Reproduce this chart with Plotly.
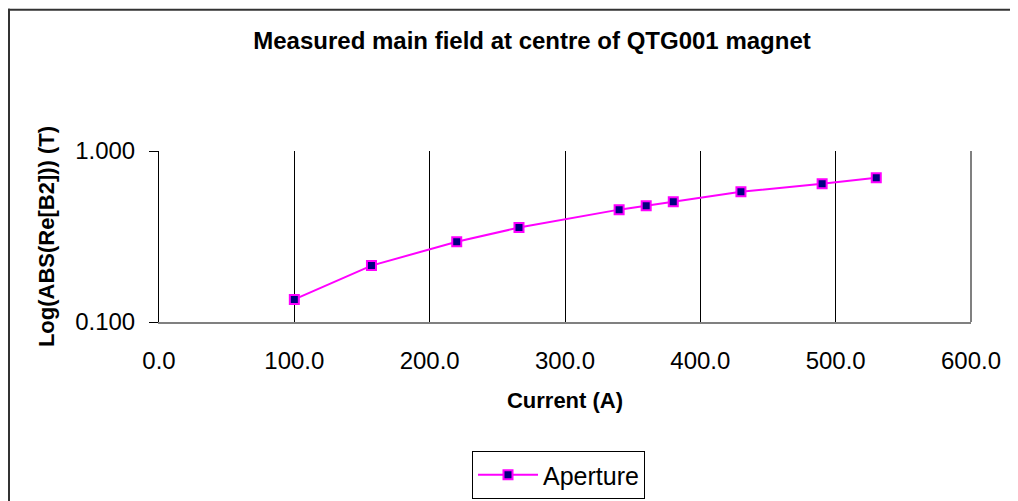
import plotly.graph_objects as go

current_A = [100, 157, 220, 266, 340, 360, 380, 430, 490, 530]
field_T = [0.1355, 0.2137, 0.2945, 0.3566, 0.454, 0.479, 0.505, 0.578, 0.643, 0.697]
series_name = "Aperture"
x_ticks = [0, 100, 200, 300, 400, 500, 600]
y_ticks = [0.1, 1.0]
y_ticktext = ["0.100", "1.000"]

W, H = 1018, 501
OFF = 8  # page body margin shifts the figure by this many px
L, R, T, B = 159 - OFF, 971 - OFF, 151 - OFF, 323 - OFF
pw, ph = R - L, B - T

def px_x(p):
    return (p - OFF - L) / pw

def px_y(p):
    return (B - (p - OFF)) / ph

fig = go.Figure()
fig.add_trace(go.Scatter(
    x=current_A, y=field_T, name=series_name, mode="lines+markers",
    line=dict(color="#FF00FF", width=2),
    marker=dict(symbol="square", size=9, color="#000080",
                line=dict(color="#FF00FF", width=2)),
))

font = "Liberation Sans, Arial, sans-serif"
fig.update_layout(
    width=W, height=H,
    margin=dict(l=L, r=W - R, t=T, b=H - B),
    paper_bgcolor="white", plot_bgcolor="white",
    font=dict(family=font, color="black", size=24),
    title=dict(text="<b>Measured main field at centre of QTG001 magnet</b>",
               xref="container", x=(532 - OFF) / W, xanchor="center",
               yref="container", y=1 - (41 - OFF) / H, yanchor="middle",
               font=dict(size=24, family=font, color="black")),
    showlegend=True,
    legend=dict(x=px_x(472), y=px_y(451), xanchor="left", yanchor="top",
                bordercolor="black", borderwidth=1, bgcolor="white",
                font=dict(size=25, family=font), itemwidth=60),
    xaxis=dict(range=[0, 600], tickvals=x_ticks,
               ticktext=[f"{v:.1f}" for v in x_ticks],
               showgrid=True, gridcolor="black", gridwidth=1,
               showline=True, linecolor="#808080", linewidth=2,
               ticks="", ticklabelstandoff=16, zeroline=False,
               title=dict(text="<b>Current (A)</b>", standoff=20,
                          font=dict(size=22, family=font))),
    yaxis=dict(type="log", range=[-1, 0], tickvals=y_ticks, ticktext=y_ticktext,
               showgrid=True, gridcolor="black", gridwidth=1,
               showline=True, linecolor="black", linewidth=1,
               ticks="outside", ticklen=9, tickcolor="black",
               ticklabelstandoff=9, zeroline=False,
               title=dict(text="<b>Log(ABS(Re[B2])) (T)</b>", standoff=14,
                          font=dict(size=22, family=font))),
    shapes=[
        dict(type="line", xref="x domain", yref="y domain", x0=1, x1=1, y0=0, y1=1,
             line=dict(color="#808080", width=2), layer="above"),
        dict(type="line", xref="paper", yref="paper", x0=px_x(OFF), x1=px_x(W + OFF),
             y0=px_y(OFF + 1), y1=px_y(OFF + 1), line=dict(color="#333333", width=2)),
        dict(type="line", xref="paper", yref="paper", x0=px_x(OFF + 1), x1=px_x(OFF + 1),
             y0=px_y(OFF), y1=px_y(H + OFF), line=dict(color="#333333", width=2)),
    ],
)

fig.write_html("out.html")
